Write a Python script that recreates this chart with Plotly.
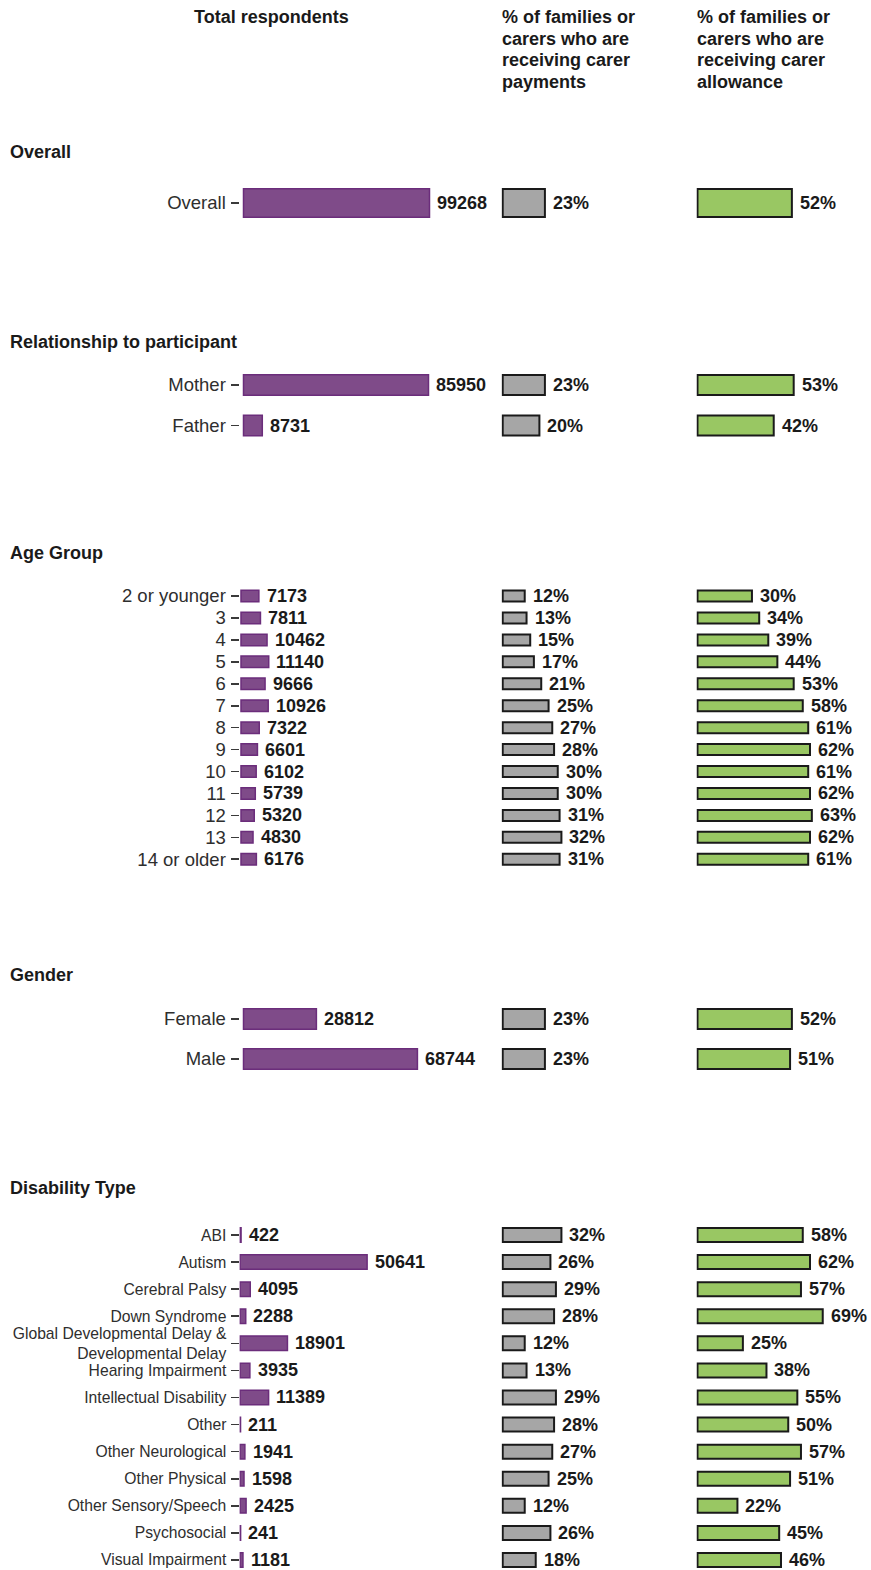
import plotly.graph_objects as go

# ---------------- data ----------------
overall_labels = ["Overall"]
overall_total = [99268]
overall_pay = [23]
overall_allow = [52]

rel_labels = ["Mother", "Father"]
rel_total = [85950, 8731]
rel_pay = [23, 20]
rel_allow = [53, 42]

age_labels = ["2 or younger", "3", "4", "5", "6", "7", "8", "9", "10", "11", "12", "13", "14 or older"]
age_total = [7173, 7811, 10462, 11140, 9666, 10926, 7322, 6601, 6102, 5739, 5320, 4830, 6176]
age_pay = [12, 13, 15, 17, 21, 25, 27, 28, 30, 30, 31, 32, 31]
age_allow = [30, 34, 39, 44, 53, 58, 61, 62, 61, 62, 63, 62, 61]

gender_labels = ["Female", "Male"]
gender_total = [28812, 68744]
gender_pay = [23, 23]
gender_allow = [52, 51]

dis_labels = ["ABI", "Autism", "Cerebral Palsy", "Down Syndrome",
              "Global Developmental Delay &<br>Developmental Delay",
              "Hearing Impairment", "Intellectual Disability", "Other",
              "Other Neurological", "Other Physical", "Other Sensory/Speech",
              "Psychosocial", "Visual Impairment"]
dis_total = [422, 50641, 4095, 2288, 18901, 3935, 11389, 211, 1941, 1598, 2425, 241, 1181]
dis_pay = [32, 26, 29, 28, 12, 13, 29, 28, 27, 25, 12, 26, 18]
dis_allow = [58, 62, 57, 69, 25, 38, 55, 50, 57, 51, 22, 45, 46]

section_titles = ["Overall", "Relationship to participant", "Age Group", "Gender", "Disability Type"]
col_headers = [["Total respondents"],
               ["% of families or", "carers who are", "receiving carer", "payments"],
               ["% of families or", "carers who are", "receiving carer", "allowance"]]

# ---------------- layout geometry (pixels) ----------------
W, H = 871, 1570
sections = [
    dict(labels=overall_labels, total=overall_total, pay=overall_pay, allow=overall_allow,
         title_y=152, c0=203, step=40, bar_h=30, zero=243.5, s1=186 / 99268, lab=18.5),
    dict(labels=rel_labels, total=rel_total, pay=rel_pay, allow=rel_allow,
         title_y=342, c0=385, step=40.5, bar_h=22, zero=243.5, s1=185 / 85950, lab=18.5),
    dict(labels=age_labels, total=age_total, pay=age_pay, allow=age_allow,
         title_y=553, c0=596, step=21.94, bar_h=13, zero=241, s1=2.49e-3, lab=18.5),
    dict(labels=gender_labels, total=gender_total, pay=gender_pay, allow=gender_allow,
         title_y=975, c0=1019, step=40, bar_h=22, zero=243.5, s1=2.53e-3, lab=18.5),
    dict(labels=dis_labels, total=dis_total, pay=dis_pay, allow=dis_allow,
         title_y=1188, c0=1235, step=27.08, bar_h=16, zero=240, s1=2.51e-3, lab=15.7),
]

cols = [
    dict(key="total", left=239.5, right=489, fill="#7f4b89", line="#6b2d7b", lw=1.5, fmt="{:d}"),
    dict(key="pay", left=501.5, right=690, zero=502.7, s=1.835, fill="#a6a6a6", line="#1a1a1a", lw=2, fmt="{:d}%"),
    dict(key="allow", left=696.5, right=868, zero=697.5, s=1.815, fill="#99c763", line="#1a1a1a", lw=2, fmt="{:d}%"),
]

FAMILY = "Liberation Sans, Arial, sans-serif"
VAL_FONT = dict(family=FAMILY, size=18, color="#1a1a1a")
LAB_COLOR = "#2e2e2e"

fig = go.Figure()
annotations = []
layout = {}

n = 0
for si, sec in enumerate(sections):
    k = len(sec["labels"])
    top = max(0, sec["c0"] - sec["step"] / 2 - 4)
    bot = min(H, sec["c0"] + (k - 1) * sec["step"] + sec["step"] / 2 + 4)
    v_top = (top - sec["c0"]) / sec["step"]
    v_bot = (bot - sec["c0"]) / sec["step"]
    ydom = [1 - bot / H, 1 - top / H]
    idx = list(range(k))
    for ci, col in enumerate(cols):
        n += 1
        xa = "x" if n == 1 else f"x{n}"
        ya = "y" if n == 1 else f"y{n}"
        if ci == 0:
            zero, s = sec["zero"], sec["s1"]
        else:
            zero, s = col["zero"], col["s"]
        xr = [(col["left"] - zero) / s, (col["right"] - zero) / s]
        vals = sec[col["key"]]
        width = (sec["bar_h"] - col["lw"]) / sec["step"]
        fig.add_trace(go.Bar(
            x=vals, y=idx, orientation="h", width=width,
            marker=dict(color=col["fill"], line=dict(color=col["line"], width=col["lw"])),
            xaxis=xa, yaxis=ya, showlegend=False, hoverinfo="skip"))
        layout[f"xaxis{'' if n == 1 else n}"] = dict(
            domain=[col["left"] / W, col["right"] / W], range=xr, anchor=ya,
            visible=False, fixedrange=True)
        yax = dict(domain=ydom, range=[v_bot, v_top], anchor=xa,
                   showgrid=False, zeroline=False, showline=False, fixedrange=True)
        if ci == 0:
            yax.update(tickmode="array", tickvals=idx, ticktext=sec["labels"],
                       ticks="outside", ticklen=8, tickwidth=1.6, tickcolor="#3a3a3a",
                       ticklabelstandoff=1,
                       tickfont=dict(family=FAMILY, size=sec["lab"], color=LAB_COLOR))
        else:
            yax.update(showticklabels=False, ticks="")
        layout[f"yaxis{'' if n == 1 else n}"] = yax
        for i, v in enumerate(vals):
            annotations.append(dict(
                x=v, y=i, xref=xa, yref=ya, text="<b>" + col["fmt"].format(v) + "</b>",
                showarrow=False, xanchor="left", yanchor="middle",
                xshift=5 + col["lw"] / 2, font=VAL_FONT))
    # section title
    annotations.append(dict(
        x=8 / W, y=1 - sec["title_y"] / H, xref="paper", yref="paper",
        text=f"<b>{section_titles[si]}</b>", showarrow=False,
        xanchor="left", yanchor="middle",
        font=dict(family=FAMILY, size=18, color="#1a1a1a")))

# column headers
header_y = [17, 38.5, 60, 81.5]
HDR_FONT = dict(family=FAMILY, size=18, color="#1a1a1a")
for li, line in enumerate(col_headers[0]):
    annotations.append(dict(x=271 / W, y=1 - header_y[li] / H, xref="paper", yref="paper",
                            text=f"<b>{line}</b>", showarrow=False, xanchor="center",
                            yanchor="middle", font=HDR_FONT))
for hx, lines in [(500, col_headers[1]), (695, col_headers[2])]:
    for li, line in enumerate(lines):
        annotations.append(dict(x=hx / W, y=1 - header_y[li] / H, xref="paper", yref="paper",
                                text=f"<b>{line}</b>", showarrow=False, xanchor="left",
                                yanchor="middle", font=HDR_FONT))

fig.update_layout(
    width=W, height=H, autosize=False,
    margin=dict(l=0, r=0, t=0, b=0),
    paper_bgcolor="white", plot_bgcolor="white",
    annotations=annotations, bargap=0, **layout)

fig.write_html(
    "out.html",
    config={"displayModeBar": False, "staticPlot": True},
    post_script="document.body.style.margin='0';document.body.style.padding='0';"
                "document.body.style.overflow='hidden';")
